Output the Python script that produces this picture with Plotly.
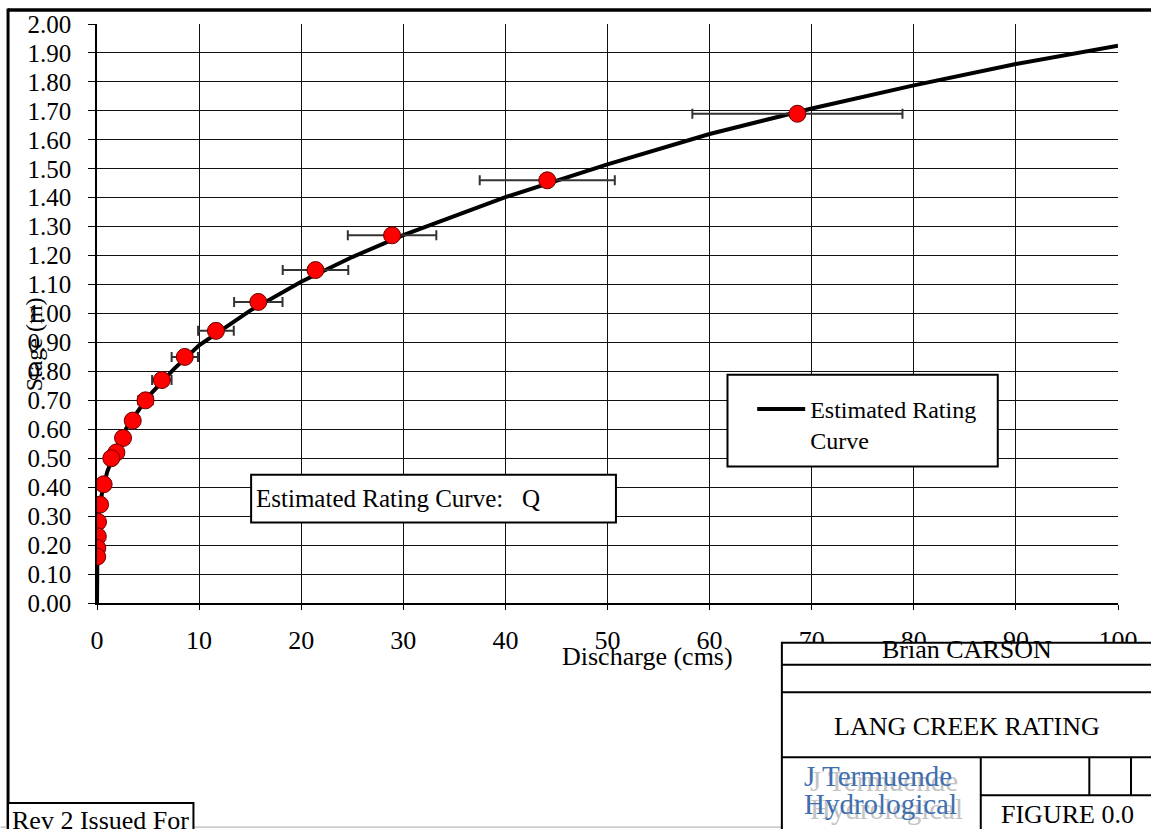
import plotly.graph_objects as go

# ---- data ----
meas_q = [68.6, 44.1, 28.9, 21.4, 15.8, 11.65, 8.6, 6.35, 4.75, 3.5, 2.55, 1.9, 1.4, 0.65, 0.3, 0.1, 0.08, 0.03, 0.02]
meas_h = [1.69, 1.46, 1.27, 1.15, 1.04, 0.94, 0.85, 0.77, 0.70, 0.63, 0.57, 0.52, 0.50, 0.41, 0.34, 0.28, 0.23, 0.19, 0.16]

curve_q = [0, 0, 0.01, 0.05, 0.2, 0.5, 1, 2, 3, 5, 7.5, 10, 15, 20, 25, 30, 40, 50, 60, 70, 80, 90, 100]
curve_h = [0, 0.16, 0.20, 0.245, 0.313, 0.382, 0.453, 0.545, 0.612, 0.712, 0.807, 0.890, 1.010, 1.110, 1.195, 1.271, 1.402, 1.515, 1.620, 1.708, 1.788, 1.862, 1.925]

x_ticks = [0, 10, 20, 30, 40, 50, 60, 70, 80, 90, 100]
y_ticks = [0.0, 0.1, 0.2, 0.3, 0.4, 0.5, 0.6, 0.7, 0.8, 0.9, 1.0, 1.1, 1.2, 1.3, 1.4, 1.5, 1.6, 1.7, 1.8, 1.9, 2.0]
error_pct = 15

# ---- geometry ----
W, H = 1151, 829
L, R, T, B = 96.5, 1118.0, 24.0, 603.3
FONT = "Liberation Serif"


def px(v):
    return (v - L) / (R - L)


def py(v):
    return (B - v) / (B - T)


fig = go.Figure()

fig.add_trace(go.Scatter(
    x=curve_q, y=curve_h, mode="lines", name="Estimated Rating<br>Curve",
    line=dict(color="black", width=4), showlegend=True,
))
fig.add_trace(go.Scatter(
    x=meas_q, y=meas_h, mode="markers", name="Measurements", showlegend=False,
    marker=dict(size=17, color="#ff0000", line=dict(color="#6a0000", width=1)),
    error_x=dict(type="percent", value=error_pct, color="#333333", thickness=2, width=5),
))

shapes = []


def rect(x0, y0, x1, y1, width=2, fill="white", color="black"):
    shapes.append(dict(type="rect", xref="paper", yref="paper", layer="above",
                       x0=px(x0), x1=px(x1), y0=py(y1), y1=py(y0),
                       line=dict(color=color, width=width), fillcolor=fill))


def line(x0, y0, x1, y1, width=2, color="black"):
    shapes.append(dict(type="line", xref="paper", yref="paper", layer="above",
                       x0=px(x0), x1=px(x1), y0=py(y0), y1=py(y1),
                       line=dict(color=color, width=width)))


# page frame
line(7.5, 10, 1160, 10, width=3.5)
line(7.5, 8.5, 7.5, 835, width=3)
line(0, 827.5, 1160, 827.5, width=1, color="#aaaaaa")

# text boxes
rect(250.7, 475, 615.7, 522.7)
rect(727.3, 375, 997.7, 466.7)

# title block
rect(781.7, 643, 1165, 840)
line(781.7, 665, 1165, 665)
line(781.7, 692.7, 1165, 692.7)
line(781.7, 757.7, 1165, 757.7)
line(980.7, 757.7, 980.7, 840)
line(980.7, 795.7, 1165, 795.7)
line(1089.3, 757.7, 1089.3, 795.7)
line(1131, 757.7, 1131, 795.7)

# rev box
rect(7.5, 803.3, 193, 840)

annotations = []


def text(s, x, y, size=26, color="black", xanchor="center", yanchor="middle", angle=0):
    annotations.append(dict(text=s, x=px(x), y=py(y), xref="paper", yref="paper",
                            showarrow=False, xanchor=xanchor, yanchor=yanchor,
                            textangle=angle,
                            font=dict(family=FONT, size=size, color=color)))


text("Estimated Rating Curve:   Q", 254, 499, size=25, xanchor="left")
text("Discharge (cms)", 647, 657, size=26)
text("Stage (m)", 33, 345, size=24, angle=-90)
text("Brian CARSON", 967, 650, size=26)
text("LANG CREEK RATING", 967, 727, size=26)
text("FIGURE 0.0", 1067, 815, size=26)
text("Rev 2 Issued For", 9, 821, size=26, xanchor="left")
# logo text with grey shadow
text("J Termuende", 808, 781, size=29, color="#c4c4c4", xanchor="left")
text("Hydrological", 808, 809, size=29, color="#c4c4c4", xanchor="left")
text("J Termuende", 802, 776, size=29, color="#3f6fae", xanchor="left")
text("Hydrological", 802, 804, size=29, color="#3f6fae", xanchor="left")

fig.update_layout(
    width=W, height=H,
    margin=dict(l=L, r=W - R, t=T, b=H - B, pad=0),
    paper_bgcolor="white", plot_bgcolor="white",
    font=dict(family=FONT, size=24, color="black"),
    shapes=shapes, annotations=annotations,
    legend=dict(x=px(752), y=py(387), xanchor="left", yanchor="top",
                bgcolor="rgba(0,0,0,0)", borderwidth=0, valign="top",
                itemwidth=48, tracegroupgap=0,
                font=dict(family=FONT, size=24, color="black")),
    xaxis=dict(range=[0, 100], tickvals=x_ticks, ticktext=[str(v) for v in x_ticks],
               showgrid=True, gridcolor="#111111", gridwidth=1,
               showline=True, linecolor="black", linewidth=1.5, zeroline=False,
               ticks="outside", ticklen=5, tickcolor="black",
               ticklabelstandoff=8,
               tickfont=dict(family=FONT, size=26, color="black")),
    yaxis=dict(range=[0, 2.0], tickvals=y_ticks, tickformat=".2f",
               showgrid=True, gridcolor="#111111", gridwidth=1,
               showline=True, linecolor="black", linewidth=1.5, zeroline=False,
               ticks="outside", ticklen=7, tickcolor="black",
               ticklabelstandoff=12,
               tickfont=dict(family=FONT, size=25, color="black")),
)

fig.write_html(
    "out.html",
    config={"displayModeBar": False},
    post_script="document.body.style.margin='0px';document.body.style.padding='0px';document.body.style.overflow='hidden';",
)
